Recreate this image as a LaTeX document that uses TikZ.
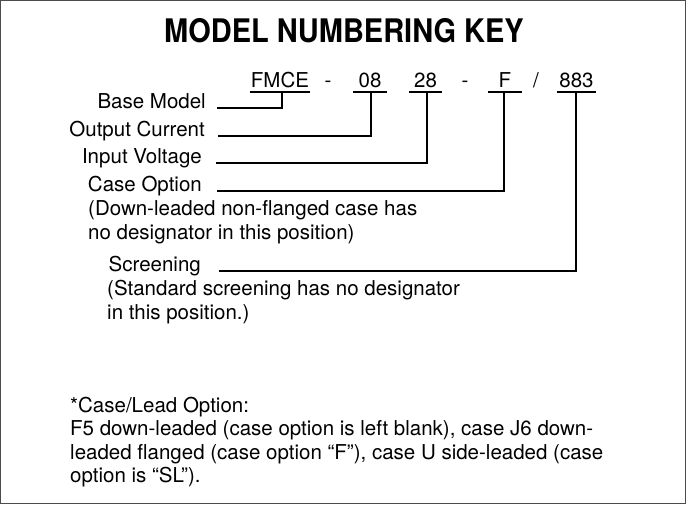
\documentclass[tikz,border=0pt]{standalone}
\usepackage{fontspec}
\setmainfont{TeX Gyre Heros}
\begin{document}
\begin{tikzpicture}[x=1pt,y=-1pt,
  lbl/.style={inner sep=0pt, font=\fontsize{20.5}{24}\selectfont},
  codepart/.style={lbl, inner ysep=5pt, text depth=0pt, anchor=base},
  conn/.style={line width=2pt, draw=black},
  frame/.style={line width=1.3pt, draw=black!70}]
\useasboundingbox (0,0) rectangle (686,504);
\draw[frame] (0.65,0.65) rectangle (685.35,503.35);
\node[inner sep=0pt, anchor=base, font=\fontsize{29}{34}\selectfont\bfseries] (title) at (344,42) {\scalebox{1}[1.12]{MODEL NUMBERING KEY}};
% code row
\node[codepart, minimum width=60pt] (fmce) at (280,87) {FMCE};
\node[lbl, anchor=base] (d1) at (328,87) {-};
\node[codepart, minimum width=34pt] (c08) at (370,87) {08};
\node[codepart, minimum width=33pt] (c28) at (425.5,87) {28};
\node[lbl, anchor=base] (d2) at (465,87) {-};
\node[codepart, minimum width=34pt] (cf) at (505,87) {F};
\node[lbl, anchor=base] (sl) at (536,87) {/};
\node[codepart, minimum width=39pt] (c883) at (576.5,87) {883};
\foreach \n in {fmce,c08,c28,cf,c883}
  \draw[conn] (\n.south west) -- (\n.south east);
% labels
\node[lbl, anchor=base east] (bm) at (206,108) {Base Model};
\node[lbl, anchor=base east] (oc) at (205,136) {Output Current};
\node[lbl, anchor=base east] (iv) at (202,163) {Input Voltage};
\node[lbl, anchor=base east] (co) at (202,191) {Case Option};
\node[lbl, anchor=base west] (co1) at (88,215) {(Down-leaded non-flanged case has};
\node[lbl, anchor=base west] (co2) at (88,239) {no designator in this position)};
\node[lbl, anchor=base east] (sc) at (201,271) {Screening};
\node[lbl, anchor=base west] (sc1) at (107,295.5) {(Standard screening has no designator};
\node[lbl, anchor=base west] (sc2) at (107,319.5) {in this position.)};
% notes
\node[lbl, anchor=base west] (n0) at (70,412) {*Case/Lead Option:};
\node[lbl, anchor=base west] (n1) at (70,435.5) {F5 down-leaded (case option is left blank), case J6 down-};
\node[lbl, anchor=base west] (n2) at (70,459) {leaded flanged (case option “F”), case U side-leaded (case};
\node[lbl, anchor=base west] (n3) at (70,482.5) {option is “SL”).};
% connectors
\draw[conn] ([xshift=11pt]bm.base east) -| ([xshift=2pt]fmce.south);
\draw[conn] ([xshift=13pt]oc.base east) -| ([xshift=1pt]c08.south);
\draw[conn] ([xshift=14pt]iv.base east) -| ([xshift=1.5pt]c28.south);
\draw[conn] ([xshift=15pt]co.base east) -| ([xshift=-1pt]cf.south);
\draw[conn] ([xshift=18pt]sc.base east) -| ([xshift=-0.5pt]c883.south);
\end{tikzpicture}
\end{document}
